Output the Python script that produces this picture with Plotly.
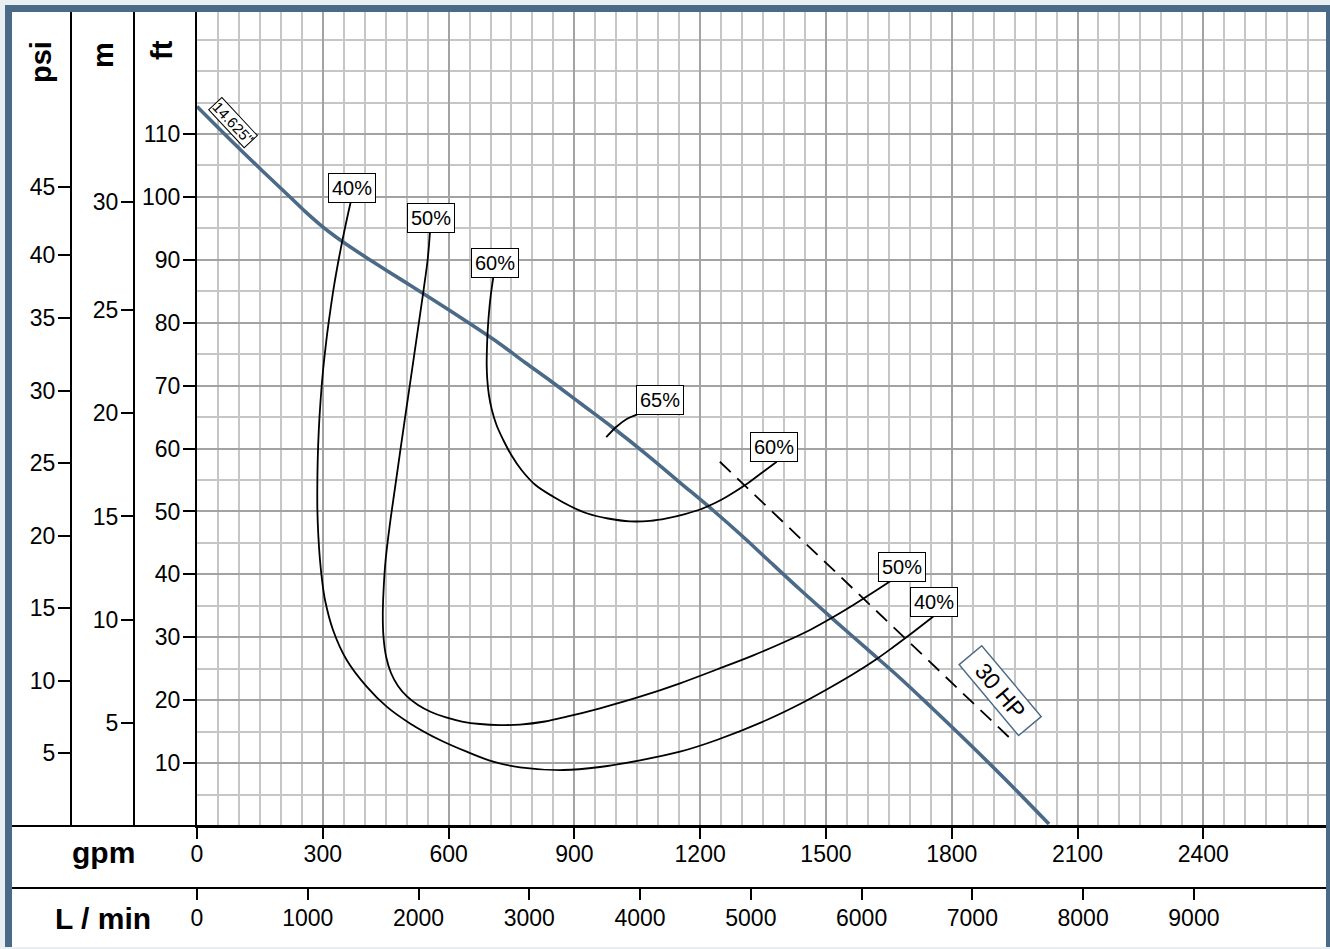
import plotly.graph_objects as go

# ---------------- data (gpm / ft) ----------------
pump_gpm = [0, 78.7, 157.4, 221.8, 257.6, 293.4, 329.1, 364.9, 405.4, 484.1, 562.9, 643.9,
            722.6, 782.3, 841.9, 913.4, 992.9, 1072.5, 1151.9, 1231.4, 1302.9, 1359.4,
            1438.1, 1516.8, 1597.9, 1676.6, 1755.4, 1836.4, 1931.8, 2032.0]
pump_ft = [114.37, 109.13, 104.04, 99.98, 97.71, 95.61, 93.75, 92.08, 90.30, 86.97, 83.66,
           80.15, 76.63, 73.68, 70.82, 67.24, 63.27, 59.05, 54.60, 50.15, 45.94, 42.44,
           37.59, 32.90, 28.14, 23.53, 18.60, 13.43, 7.15, 0.3]

eff40_gpm = [366.6, 357.0, 347.0, 337.7, 327.2, 318.2, 308.6, 300.7, 294.8, 290.5, 287.9,
             286.9, 287.1, 289.3, 293.3, 298.8, 305.3, 324.4, 357.0, 404.7, 452.4, 508.0,
             579.5, 643.2, 706.7, 770.3, 873.6, 961.2, 1056.6, 1152.0, 1239.5, 1358.7,
             1438.2, 1501.8, 1565.3, 1621.1, 1660.7, 1708.4, 1756.1]
eff40_ft = [99.19, 96.33, 93.15, 89.97, 86.00, 82.03, 77.25, 72.48, 67.71, 62.95, 58.18,
            53.41, 50.23, 46.26, 42.28, 38.79, 35.93, 31.16, 26.39, 22.15, 18.97, 16.31,
            13.67, 11.81, 10.22, 9.33, 8.90, 9.38, 10.44, 11.81, 13.67, 16.85, 19.39, 21.70,
            24.16, 26.55, 28.45, 30.84, 33.30]

eff50_gpm = [555.7, 550.0, 540.4, 526.6, 512.8, 498.9, 485.1, 471.5, 459.8, 449.8, 445.0,
             443.1, 444.8, 451.2, 462.7, 479.4, 500.8, 527.1, 558.1, 593.9, 632.0, 674.9,
             722.6, 770.3, 830.0, 881.7, 961.2, 1056.6, 1152.0, 1239.5, 1326.8, 1398.3,
             1462.0, 1517.6, 1565.3, 1613.0, 1668.8]
eff50_ft = [94.42, 89.97, 85.20, 78.84, 72.48, 66.13, 59.77, 53.41, 47.85, 42.28, 37.51,
            33.54, 30.04, 26.86, 24.32, 22.25, 20.59, 19.23, 18.12, 17.25, 16.61, 16.21,
            16.05, 16.12, 16.61, 17.37, 18.71, 20.55, 22.68, 24.88, 27.13, 29.17, 31.16,
            33.22, 35.13, 37.15, 39.58]

eff60_gpm = [706.7, 700.7, 695.9, 693.0, 691.4, 690.9, 692.4, 696.2, 703.3, 714.3, 730.5,
             749.6, 773.9, 807.3, 849.8, 889.6, 929.4, 980.2, 1032.7, 1080.4, 1120.2, 1163.9,
             1199.6, 1235.4, 1263.3, 1311.0, 1350.6, 1382.6]
eff60_ft = [87.22, 84.41, 81.23, 78.37, 75.66, 73.28, 70.90, 68.51, 66.13, 63.74, 61.36,
            58.97, 56.59, 54.20, 52.34, 50.87, 49.71, 48.88, 48.43, 48.51, 48.91, 49.59,
            50.31, 51.34, 52.34, 54.36, 56.32, 57.91]

eff65_gpm = [976, 1001, 1025, 1049]
eff65_ft = [61.8, 63.5, 64.7, 65.4]

hp30_gpm = [1247, 1943]
hp30_ft = [57.9, 13.7]

# labels
curve_labels = ["40%", "50%", "60%", "65%", "60%", "50%", "40%"]
label_gpm = [370, 557, 711, 1104, 1377, 1681, 1757]
label_ft = [101.4, 96.6, 89.5, 67.7, 60.3, 41.2, 35.6]
dia_label = "14.625\""
dia_label_gpm = 86
dia_label_ft = 111.9
hp_label = "30 HP"
hp_label_gpm = 1915
hp_label_ft = 21.5

gpm_ticks = [0, 300, 600, 900, 1200, 1500, 1800, 2100, 2400]
lpm_ticks = [0, 1000, 2000, 3000, 4000, 5000, 6000, 7000, 8000, 9000]
ft_ticks = [10, 20, 30, 40, 50, 60, 70, 80, 90, 100, 110]
psi_labels = ["5", "10", "15", "20", "25", "30", "35", "40", "45"]
psi_tick_ft = [11.6, 23.0, 34.7, 46.1, 57.7, 69.2, 80.8, 90.8, 101.6]
m_labels = ["5", "10", "15", "20", "25", "30"]
m_tick_ft = [16.4, 32.8, 49.2, 65.6, 82.0, 99.2]

# ---------------- layout helpers ----------------
W, H = 1330, 949
def px(x):
    return x / W
def py(y):
    return 1 - y / H

X0, X1 = 197, 1326
Y0, Y1 = 826, 12
PX_PER_GPM = 0.41929
PX_PER_FT = 6.291
GPM_TO_LPM = 3.7854
gpm_max = (X1 - X0) / PX_PER_GPM
ft_max = (Y0 - Y1) / PX_PER_FT

FONT = "Liberation Sans, Arial, sans-serif"
BLUE = "#4b6a88"
GRID_MAJOR = "#a3a3a3"
GRID_MINOR = "#c6c6c6"

fig = go.Figure()

fig.add_trace(go.Scatter(x=pump_gpm, y=pump_ft, mode="lines",
                         line=dict(color=BLUE, width=3.6, shape="spline", smoothing=1.0),
                         hoverinfo="skip"))
for gx, gy in [(eff40_gpm, eff40_ft), (eff50_gpm, eff50_ft), (eff60_gpm, eff60_ft),
               (eff65_gpm, eff65_ft)]:
    fig.add_trace(go.Scatter(x=gx, y=gy, mode="lines",
                             line=dict(color="black", width=1.8, shape="spline", smoothing=1.0),
                             hoverinfo="skip"))
fig.add_trace(go.Scatter(x=hp30_gpm, y=hp30_ft, mode="lines",
                         line=dict(color="black", width=1.8, dash="15px,9px"),
                         hoverinfo="skip"))

annotations = []
for t, gx, gy in zip(curve_labels, label_gpm, label_ft):
    annotations.append(dict(x=gx, y=gy, xref="x", yref="y", text=t, showarrow=False,
                            font=dict(family=FONT, size=20, color="black"),
                            bgcolor="white", bordercolor="black", borderwidth=1, borderpad=3))
annotations.append(dict(x=dia_label_gpm, y=dia_label_ft, xref="x", yref="y", text=dia_label,
                        showarrow=False, textangle=47,
                        font=dict(family=FONT, size=15, color="black"),
                        bgcolor="white", bordercolor="black", borderwidth=1, borderpad=0))
annotations.append(dict(x=hp_label_gpm, y=hp_label_ft, xref="x", yref="y",
                        text="&nbsp;&nbsp;" + hp_label + "&nbsp;&nbsp;",
                        showarrow=False, textangle=50,
                        font=dict(family=FONT, size=23, color="black"),
                        bgcolor="white", bordercolor=BLUE, borderwidth=1.5, borderpad=1))

# unit titles
for t, x, y, ang, fs in [("psi", 41, 62, -90, 29), ("m", 103, 55, -90, 29),
                         ("ft", 162, 50, -90, 29),
                         ("gpm", 103, 852, 0, 30), ("L / min", 103, 918, 0, 30)]:
    annotations.append(dict(x=px(x), y=py(y), xref="paper", yref="paper", text="<b>%s</b>" % t,
                            showarrow=False, textangle=ang, xanchor="center", yanchor="middle",
                            font=dict(family=FONT, size=fs, color="black")))

shapes = [
    dict(type="rect", xref="paper", yref="paper", x0=px(12), x1=px(1326), y0=py(947), y1=py(12),
         line=dict(width=0), fillcolor="white", layer="below"),
    dict(type="line", xref="paper", yref="paper", x0=px(12), x1=px(1326), y0=py(826), y1=py(826),
         line=dict(color="black", width=2)),
    dict(type="line", xref="paper", yref="paper", x0=px(12), x1=px(1326), y0=py(888), y1=py(888),
         line=dict(color="black", width=2)),
    dict(type="rect", xref="paper", yref="paper", x0=px(5), x1=px(12), y0=py(947), y1=py(5),
         line=dict(width=0), fillcolor=BLUE),
    dict(type="rect", xref="paper", yref="paper", x0=px(5), x1=px(1330), y0=py(12), y1=py(5),
         line=dict(width=0), fillcolor=BLUE),
    dict(type="rect", xref="paper", yref="paper", x0=px(1326), x1=px(1330), y0=py(947), y1=py(5),
         line=dict(width=0), fillcolor=BLUE),
]

tickfont = dict(family=FONT, size=23, color="black")

fig.update_layout(
    width=W, height=H,
    margin=dict(l=0, r=0, t=0, b=0, autoexpand=False),
    paper_bgcolor="#e9eef2", plot_bgcolor="white",
    showlegend=False,
    annotations=annotations,
    shapes=shapes,
    xaxis=dict(domain=[px(X0), px(X1)], range=[0, gpm_max], tickmode="array", tickvals=gpm_ticks,
               ticks="outside", ticklen=11, tickwidth=2, tickcolor="black",
               showline=True, linecolor="black", linewidth=2,
               showgrid=True, gridcolor=GRID_MAJOR, gridwidth=1.5,
               minor=dict(tickmode="linear", tick0=0, dtick=50, showgrid=True,
                          gridcolor=GRID_MINOR, gridwidth=1.5, ticks=""),
               zeroline=False, tickfont=tickfont, ticklabelstandoff=-5, automargin=False),
    xaxis2=dict(overlaying="x", anchor="free", position=py(888), side="bottom",
                range=[0, gpm_max * GPM_TO_LPM], tickmode="array", tickvals=lpm_ticks,
                ticks="outside", ticklen=11, tickwidth=2, tickcolor="black",
                showline=False, showgrid=False, zeroline=False, tickfont=tickfont,
                ticklabelstandoff=-2, automargin=False),
    yaxis=dict(domain=[py(Y0), py(Y1)], range=[0, ft_max], tickmode="array", tickvals=ft_ticks,
               ticks="outside", ticklen=12, tickwidth=2, tickcolor="black",
               showline=True, linecolor="black", linewidth=2,
               showgrid=True, gridcolor=GRID_MAJOR, gridwidth=1.5,
               minor=dict(tickmode="linear", tick0=0, dtick=5, showgrid=True,
                          gridcolor=GRID_MINOR, gridwidth=1.5, ticks=""),
               zeroline=False, tickfont=tickfont, ticklabelstandoff=-2, automargin=False),
    yaxis2=dict(overlaying="y", anchor="free", position=px(134), side="left",
                range=[0, ft_max], tickmode="array", tickvals=m_tick_ft, ticktext=m_labels,
                ticks="outside", ticklen=12, tickwidth=2, tickcolor="black",
                showline=True, linecolor="black", linewidth=2, showgrid=False, zeroline=False,
                tickfont=tickfont, ticklabelstandoff=-2, automargin=False),
    yaxis3=dict(overlaying="y", anchor="free", position=px(71), side="left",
                range=[0, ft_max], tickmode="array", tickvals=psi_tick_ft, ticktext=psi_labels,
                ticks="outside", ticklen=12, tickwidth=2, tickcolor="black",
                showline=True, linecolor="black", linewidth=2, showgrid=False, zeroline=False,
                tickfont=tickfont, ticklabelstandoff=-2, automargin=False),
)

fig.add_trace(go.Scatter(x=[None], y=[None], xaxis="x2", yaxis="y", hoverinfo="skip"))
fig.add_trace(go.Scatter(x=[None], y=[None], xaxis="x", yaxis="y2", hoverinfo="skip"))
fig.add_trace(go.Scatter(x=[None], y=[None], xaxis="x", yaxis="y3", hoverinfo="skip"))

fig.write_html("out.html", config={"displayModeBar": False},
               post_script="document.body.style.margin='0';document.body.style.overflow='hidden';")
